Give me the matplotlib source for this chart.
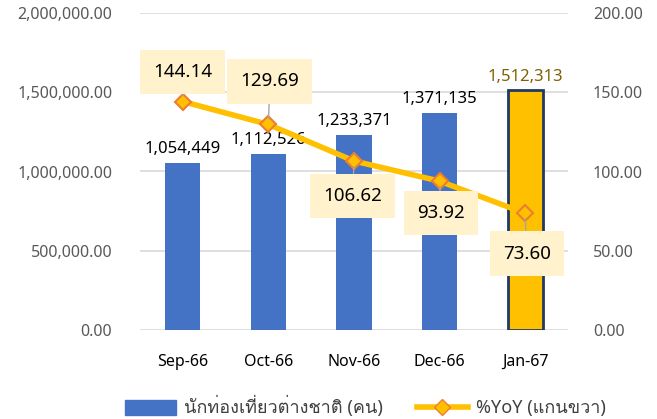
import matplotlib
matplotlib.use('Agg')
import matplotlib.pyplot as plt
from matplotlib import font_manager
from matplotlib.ft2font import FT2Font
from matplotlib.ticker import FuncFormatter
from matplotlib.lines import Line2D
from matplotlib.patches import Patch

months = ['Sep-66', 'Oct-66', 'Nov-66', 'Dec-66', 'Jan-67']
tourists = [1054449, 1112526, 1233371, 1371135, 1512313]
yoy = [144.14, 129.69, 106.62, 93.92, 73.60]
bar_label = 'นักท่องเที่ยวต่างชาติ (คน)'
line_label = '%YoY (แกนขวา)'

# find a family that can draw Thai
thai_fams = []
for f in font_manager.fontManager.ttflist:
    try:
        if 0x0E19 in FT2Font(f.fname).get_charmap() and f.name not in thai_fams:
            thai_fams.append(f.name)
    except Exception:
        pass
plt.rcParams['font.family'] = ['Noto Sans'] + thai_fams + ['DejaVu Sans']

fig = plt.figure(figsize=(6.57, 4.19), dpi=100)
ax = fig.add_axes([140 / 657, 1 - 330 / 419, 428 / 657, 317 / 419])
ax2 = ax.twinx()

x = list(range(len(months)))
colors = ['#4472C4'] * 4 + ['#FFC000']
edges = ['#4472C4'] * 4 + ['#1F3864']
lws = [0, 0, 0, 0, 2]
bars = ax.bar(x, tourists, width=0.41, color=colors, edgecolor=edges, linewidth=lws, zorder=2)
ax.set_ylim(0, 2000000)
ax.set_xlim(-0.5, 4.5)
ax.set_yticks([0, 500000, 1000000, 1500000, 2000000])
ax.yaxis.set_major_formatter(FuncFormatter(lambda v, p: f'{v:,.2f}'))
ax.grid(axis='y', color='#D9D9D9', linewidth=1.2, zorder=0)
ax.set_axisbelow(True)
ax.set_xticks(x)
ax.set_xticklabels(months)
for s in ax.spines.values():
    s.set_visible(False)
for s in ax2.spines.values():
    s.set_visible(False)
ax.tick_params(length=0, labelsize=11.5, labelcolor='#595959', pad=20)
ax.tick_params(axis='x', labelcolor='#000000', pad=17)

for i, v in enumerate(tourists):
    c = '#7F6000' if i == 4 else 'black'
    ax.annotate(f'{v:,}', (i, v), xytext=(0, 4), textcoords='offset points',
                ha='center', va='bottom', fontsize=12, color=c, zorder=5)

ax2.set_ylim(0, 200)
ax2.set_yticks([0, 50, 100, 150, 200])
ax2.yaxis.set_major_formatter(FuncFormatter(lambda v, p: f'{v:.2f}'))
ax2.tick_params(length=0, labelsize=11.5, labelcolor='#595959', pad=18)
ax2.plot(x, yoy, color='#FFC000', linewidth=4, marker='D', markersize=8,
         markerfacecolor='#FFC000', markeredgecolor='#ED7D31', markeredgewidth=1.5, zorder=3)

# label offsets in points (dx, dy) of box centre from marker
offsets = [(0, 21), (1, 31), (-1, -25), (1, -23), (1, -29)]
for i, v in enumerate(yoy):
    dx, dy = offsets[i]
    ax2.annotate(f'{v:.2f}', (i, v), xytext=(dx, dy), textcoords='offset points',
                 ha='center', va='center', fontsize=13.5, color='black',
                 bbox=dict(boxstyle='square,pad=0.7', fc='#FFF2CC', ec='none'),
                 arrowprops=dict(arrowstyle='-', color='#A6A6A6', lw=1, shrinkA=0, shrinkB=4),
                 zorder=6)

handles = [Patch(color='#4472C4'),
           Line2D([], [], color='#FFC000', linewidth=4, marker='D', markersize=8,
                  markerfacecolor='#FFC000', markeredgecolor='#ED7D31')]
fig.legend(handles, [bar_label, line_label], loc='lower center', ncol=2,
           bbox_to_anchor=(0.556, -0.035), frameon=False, fontsize=13,
           handlelength=2.8, handleheight=0.9, handletextpad=0.45,
           columnspacing=1.9, labelcolor='#404040')

fig.savefig('out.png', dpi=100)
